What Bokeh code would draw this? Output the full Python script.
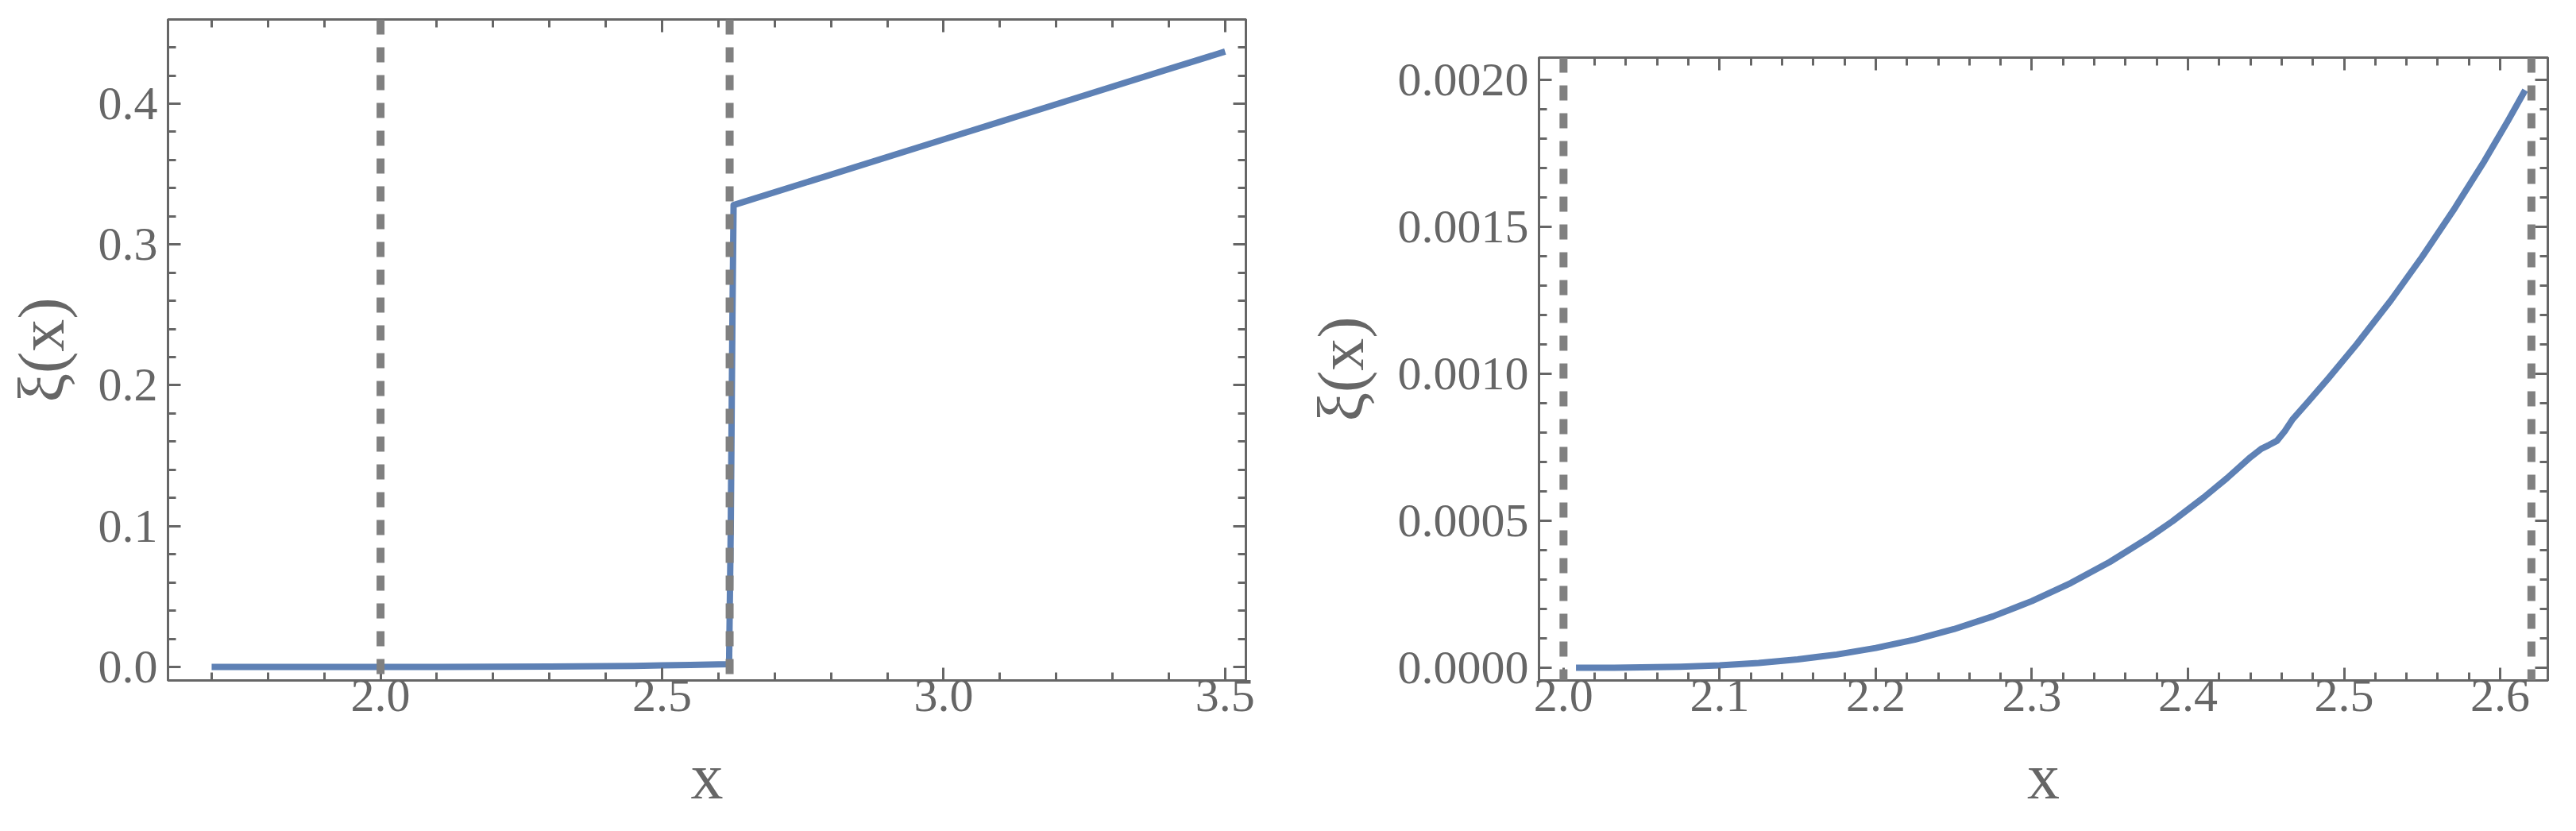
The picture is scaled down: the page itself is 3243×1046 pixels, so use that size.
from bokeh.plotting import figure
from bokeh.models import (Span, LinearAxis, FixedTicker, PrintfTickFormatter,
                          CustomJSTickFormatter, Range1d)
from bokeh.layouts import row
from bokeh.embed import file_html
from bokeh.resources import INLINE

# ---------------- data ----------------
thresholds = [2.0, 2.62]

left_x = [1.70, 1.80, 1.90, 2.00, 2.10, 2.20, 2.30, 2.40, 2.45, 2.50, 2.55,
          2.60, 2.619, 2.622, 2.625, 2.627, 2.80, 3.00, 3.20, 3.40, 3.50]
left_y = [0.0, 0.0, 0.0, 0.0, 0.00001, 0.00007, 0.00023, 0.00054, 0.00075,
          0.00105, 0.00145, 0.00183, 0.0020, 0.10, 0.25, 0.328, 0.3496,
          0.3746, 0.3996, 0.4246, 0.437]

right_x = [2.008, 2.03, 2.05, 2.075, 2.10, 2.125, 2.15, 2.175, 2.20, 2.225,
           2.25, 2.275, 2.30, 2.325, 2.35, 2.375, 2.39, 2.41, 2.425, 2.44,
           2.447, 2.452, 2.457, 2.462, 2.467, 2.477, 2.49, 2.508, 2.53, 2.55,
           2.57, 2.59, 2.605, 2.616]
right_y = [0.0, 0.0000002, 0.0000011, 0.0000035, 0.0000084, 0.0000164,
           0.0000284, 0.0000450, 0.0000672, 0.0000957, 0.0001313, 0.0001747,
           0.0002268, 0.0002884, 0.0003602, 0.0004430, 0.000498, 0.000579,
           0.000645, 0.000716, 0.000745, 0.000758, 0.000772, 0.000805,
           0.000845, 0.000905, 0.000985, 0.001100, 0.001250, 0.001398,
           0.001556, 0.001725, 0.001861, 0.001965]

left_xticks = [2.0, 2.5, 3.0, 3.5]
left_xminor = [1.7, 1.8, 1.9, 2.1, 2.2, 2.3, 2.4, 2.6, 2.7, 2.8, 2.9,
               3.1, 3.2, 3.3, 3.4]
left_yticks = [0.0, 0.1, 0.2, 0.3, 0.4]
left_yminor = [0.02, 0.04, 0.06, 0.08, 0.12, 0.14, 0.16, 0.18, 0.22, 0.24,
               0.26, 0.28, 0.32, 0.34, 0.36, 0.38, 0.42, 0.44]

right_xticks = [2.0, 2.1, 2.2, 2.3, 2.4, 2.5, 2.6]
right_xminor = [2.02, 2.04, 2.06, 2.08, 2.12, 2.14, 2.16, 2.18, 2.22, 2.24,
                2.26, 2.28, 2.32, 2.34, 2.36, 2.38, 2.42, 2.44, 2.46, 2.48,
                2.52, 2.54, 2.56, 2.58, 2.62]
right_yticks = [0.0, 0.0005, 0.0010, 0.0015, 0.0020]
right_yminor = [0.0001, 0.0002, 0.0003, 0.0004, 0.0006, 0.0007, 0.0008,
                0.0009, 0.0011, 0.0012, 0.0013, 0.0014, 0.0016, 0.0017,
                0.0018, 0.0019]

x_label = "x"
y_label = "ξ(x)"

# ---------------- style ----------------
BLUE = "#5E81B5"
DASH = "#808080"
FRAME = "#666666"
FONT = "Liberation Serif"
TICK_FS = "60px"
LABEL_FS = "82px"


def style_axis(ax, ticks, minor, fmt=None, show_labels=True):
    ax.ticker = FixedTicker(ticks=ticks, minor_ticks=minor)
    ax.axis_line_color = FRAME
    ax.axis_line_width = 3
    ax.major_tick_line_color = FRAME
    ax.major_tick_line_width = 3
    ax.minor_tick_line_color = FRAME
    ax.minor_tick_line_width = 3
    ax.major_tick_in = 16
    ax.major_tick_out = 0
    ax.minor_tick_in = 10
    ax.minor_tick_out = 0
    ax.major_label_text_font = FONT
    ax.major_label_text_color = FRAME
    ax.major_label_text_line_height = 1.0
    ax.axis_label_text_font = FONT
    ax.axis_label_text_color = FRAME
    ax.axis_label_text_font_style = "normal"
    ax.axis_label_text_font_size = LABEL_FS
    ax.axis_label_text_line_height = 1.0
    if show_labels:
        ax.major_label_text_font_size = TICK_FS
        ax.formatter = fmt
    else:
        ax.formatter = CustomJSTickFormatter(code="return ''")
        ax.major_label_text_font_size = "0px"
        ax.major_label_standoff = 0


def make_panel(xs, ys, xr, yr, xt, xm, yt, ym, yfmt, width, height,
               bl, br, bt, bb):
    p = figure(width=width, height=height, output_backend="svg",
               toolbar_location=None, x_range=Range1d(*xr),
               y_range=Range1d(*yr), min_border_left=bl, min_border_right=br,
               min_border_top=bt, min_border_bottom=bb)
    p.frame_align = False
    p.xgrid.visible = False
    p.ygrid.visible = False
    p.outline_line_color = FRAME
    p.outline_line_width = 3
    p.background_fill_color = "white"
    p.border_fill_color = "white"

    p.line(xs, ys, line_color=BLUE, line_width=8, line_join="round")
    for t in thresholds:
        p.add_layout(Span(location=t, dimension="height", line_color=DASH,
                          line_width=10, line_dash="19 16"))

    style_axis(p.xaxis[0], xt, xm, PrintfTickFormatter(format="%.1f"))
    p.xaxis[0].axis_label = x_label
    p.xaxis[0].major_label_standoff = -1
    p.xaxis[0].axis_label_standoff = 34
    style_axis(p.yaxis[0], yt, ym, PrintfTickFormatter(format=yfmt))
    p.yaxis[0].axis_label = y_label
    p.yaxis[0].major_label_standoff = 13
    p.yaxis[0].axis_label_standoff = 23

    top = LinearAxis()
    style_axis(top, xt, xm, show_labels=False)
    p.add_layout(top, "above")
    right = LinearAxis()
    style_axis(right, yt, ym, show_labels=False)
    p.add_layout(right, "right")
    return p


p1 = make_panel(left_x, left_y, (1.6225, 3.5369), (-0.0096, 0.4598),
                left_xticks, left_xminor, left_yticks, left_yminor, "%.1f",
                width=1620, height=1030, bl=211, br=52, bt=24, bb=174)
p2 = make_panel(right_x, right_y, (1.9843, 2.6305), (-0.0000432, 0.0020757),
                right_xticks, right_xminor, right_yticks, right_yminor, "%.4f",
                width=1607, height=1030, bl=317, br=20, bt=72, bb=174)

layout = row(p1, p2)
open("out.html", "w").write(file_html(layout, INLINE))
